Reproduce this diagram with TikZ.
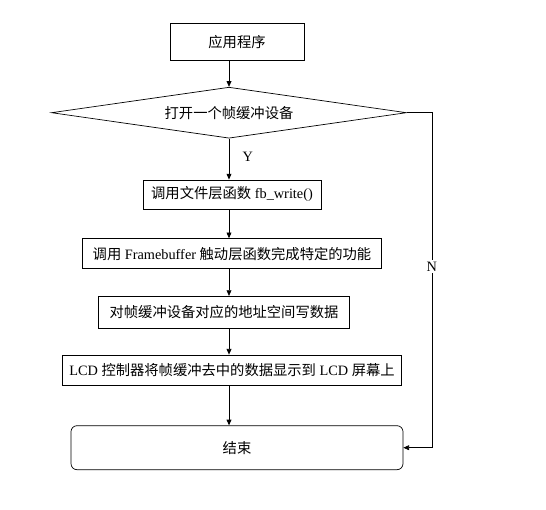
\documentclass[tikz,border=0pt]{standalone}
\usepackage{fontspec}
\setmainfont{Liberation Serif}
\newfontfamily\cjk{Noto Sans CJK SC}
\usetikzlibrary{arrows.meta, positioning, shapes.geometric}

\begin{document}
\begin{tikzpicture}[
      x=1pt, y=1pt,
      font=\fontsize{14.3}{16}\selectfont,
      proc/.style={rectangle, draw, line width=0.7pt, inner sep=0pt},
      decide/.style={diamond, draw, line width=0.7pt, inner sep=0pt, aspect=7,
                     minimum width=355pt, minimum height=51pt},
      edge/.style={-{Triangle[length=2mm, width=1.7mm]}, line width=0.7pt}
    ]
    \useasboundingbox (0,0) rectangle (546,-510);
    \node[proc, minimum width=134pt, minimum height=37pt] (app) at (237,-42) {\cjk 应用程序};
    \node[decide, below=26pt of app, xshift=-8pt] (open) {\cjk 打开一个帧缓冲设备};
    \node[proc, minimum width=178pt, minimum height=29pt, below=41pt of open, xshift=3pt] (write)
         {{\cjk 调用文件层函数} fb\_write()};
    \node[proc, minimum width=299pt, minimum height=30pt, below=29pt of write] (drv)
         {{\cjk 调用} Framebuffer {\cjk 触动层函数完成特定的功能}};
    \node[proc, minimum width=251pt, minimum height=32pt, below=27pt of drv, xshift=-8pt] (mem)
         {\cjk 对帧缓冲设备对应的地址空间写数据};
    \node[proc, minimum width=339pt, minimum height=30pt, below=26pt of mem, xshift=8pt] (lcd)
         {LCD {\cjk 控制器将帧缓冲去中的数据显示到} LCD {\cjk 屏幕上}};
    \node[proc, rounded corners=6pt, minimum width=332pt, minimum height=44pt, below=40pt of lcd, xshift=5pt] (stop)
         {\cjk 结束};
    \draw[edge] (app.south -| open.north) -- (open.north);
    \draw[edge] (open.south) -- node[right=10pt, pos=0.45] {Y} (open.south |- write.north);
    \draw[edge] (write.south -| open.south) -- (open.south |- drv.north);
    \draw[edge] (drv.south -| open.south) -- (open.south |- mem.north);
    \draw[edge] (mem.south -| open.south) -- (open.south |- lcd.north);
    \draw[edge] (lcd.south -| open.south) -- (open.south |- stop.north);
    \draw[edge] (open.east) -- ++(25pt,0) |- node[pos=0.23, fill=white, inner sep=2pt] {N} (stop.east);
\end{tikzpicture}
\end{document}
